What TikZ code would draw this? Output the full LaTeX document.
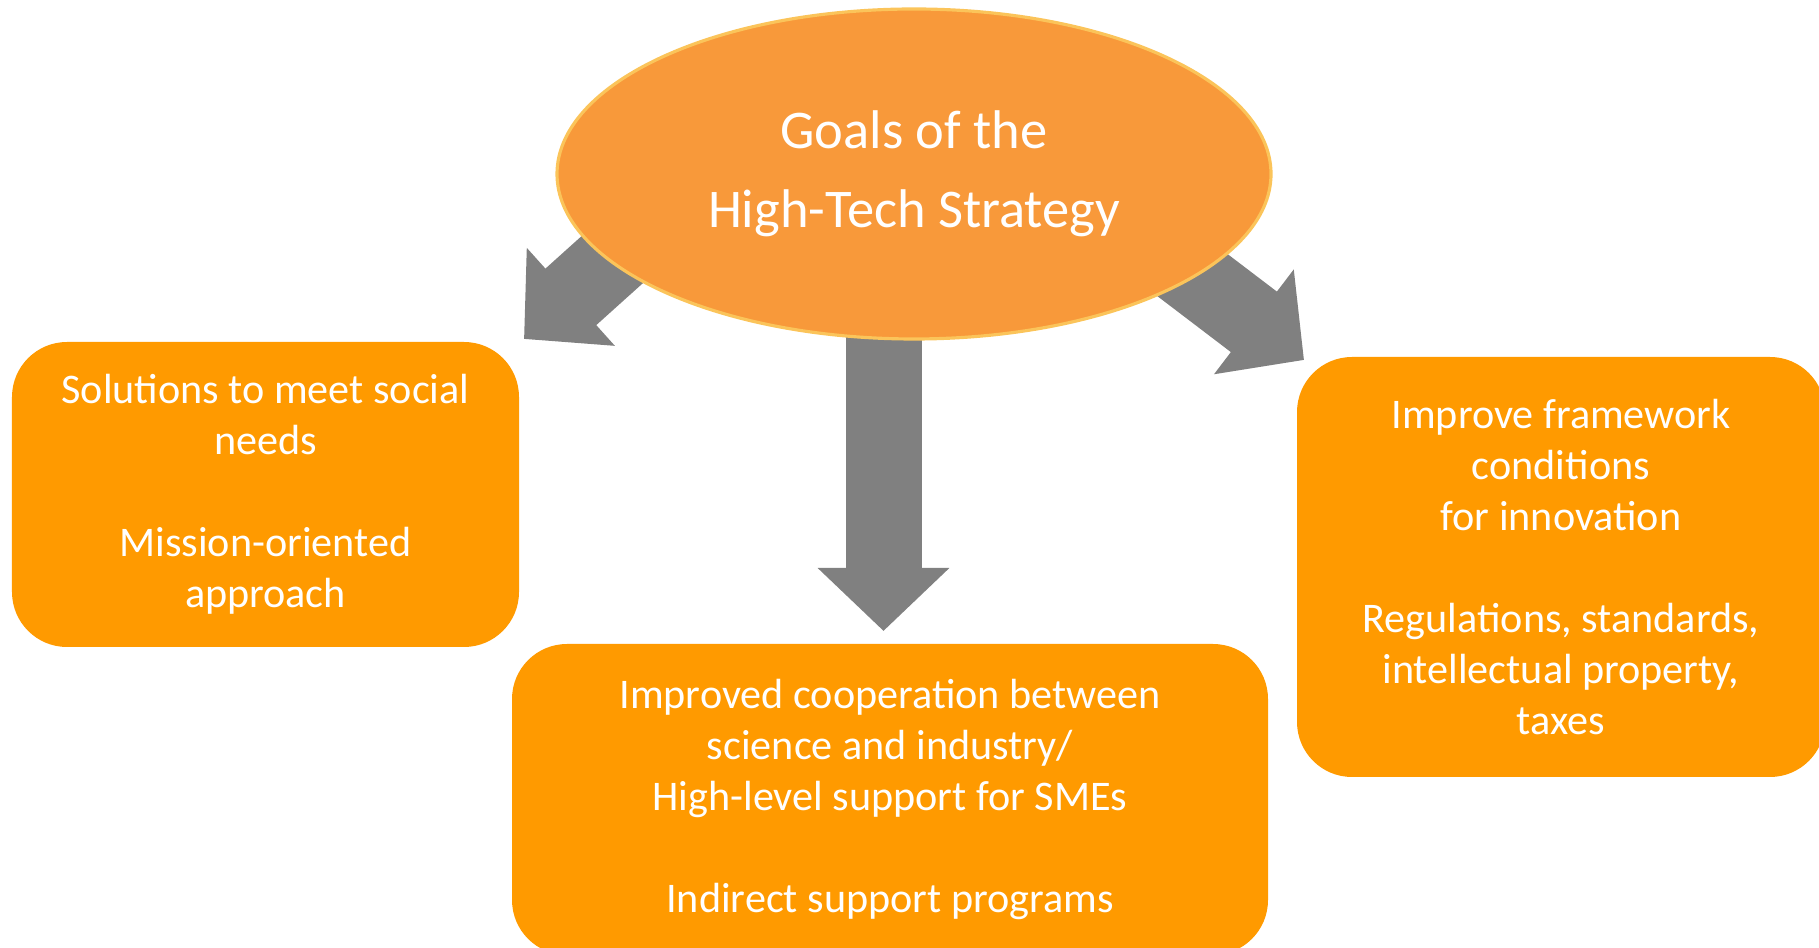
\documentclass[tikz,border=0pt]{standalone}
\usepackage{fontspec}
\setmainfont{Carlito}
\usepackage{xcolor}
\usepackage{tikz}
\usetikzlibrary{shapes.geometric, arrows.meta}

\definecolor{goalorange}{RGB}{248,153,58}
\definecolor{goalrim}{RGB}{251,196,90}
\definecolor{boxorange}{RGB}{255,154,0}
\definecolor{arrowgray}{RGB}{128,128,128}

\begin{document}
\begin{tikzpicture}[
    goal/.style={ellipse, fill=goalorange, draw=goalrim, line width=0.9pt, minimum width=7.14cm, minimum height=3.30cm, inner sep=0pt, align=center, text=white, font=\fontsize{15.5}{22.5}\selectfont},
    block/.style={rectangle, fill=boxorange, rounded corners=0.55cm, align=center, text=white, inner sep=0pt, font=\fontsize{12}{14.5}\selectfont},
    bigarrow/.style={arrowgray, line width=0.76cm, -{Triangle[width=1.28cm, length=0.63cm]}}]

    \useasboundingbox (0,0) rectangle (18.19,9.47);

    % arrow ends
    \coordinate (fromL) at (6.73,7.42);
    \coordinate (tipL) at (5.24,6.08);
    \coordinate (fromD) at (8.835,7.47);
    \coordinate (tipD) at (8.835,3.16);
    \coordinate (fromR) at (11.45,7.08);
    \coordinate (tipR) at (13.04,5.87);

    \draw [bigarrow] (fromL) -- (tipL);
    \draw [bigarrow] (fromD) -- (tipD);
    \draw [bigarrow] (fromR) -- (tipR);

    \node (hts) [goal] at (9.14,7.73) {Goals of the\\High-Tech Strategy};

    \node (social) [block, minimum width=5.07cm, minimum height=3.05cm] at (2.655,4.525) {
        Solutions to meet social\\needs\\~\\Mission-oriented\\approach};

    \node (coop) [block, minimum width=7.56cm, minimum height=3.11cm] at (8.90,1.475) {
        Improved cooperation between\\science and industry/\\High-level support for SMEs\\~\\Indirect support programs};

    \node (frame) [block, minimum width=5.28cm, minimum height=4.20cm] at (15.61,3.80) {
        Improve framework\\conditions\\for innovation\\~\\Regulations, standards,\\intellectual property,\\taxes};

\end{tikzpicture}
\end{document}
